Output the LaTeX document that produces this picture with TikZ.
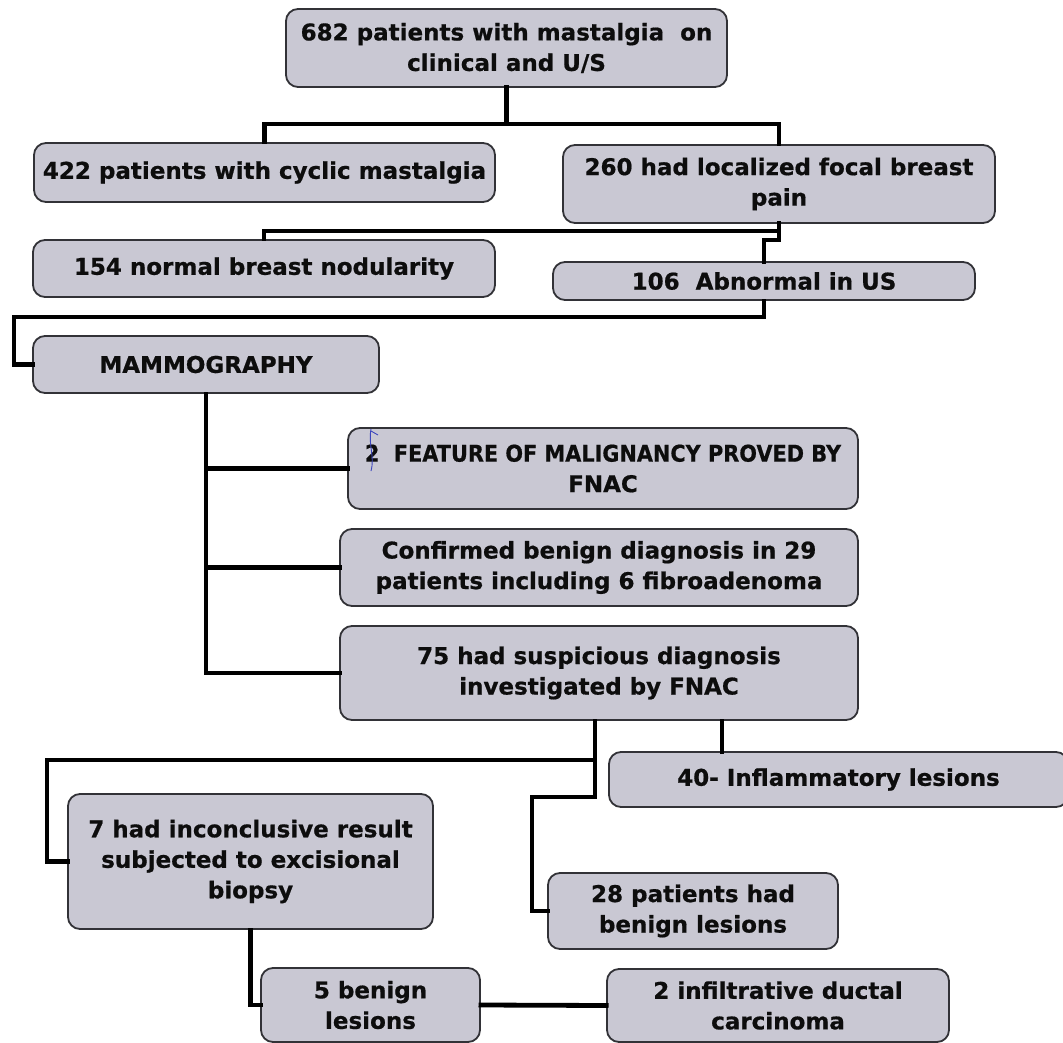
\documentclass[tikz,border=0pt]{standalone}
\usepackage{fontspec}
\setmainfont{DejaVu Sans}[BoldFeatures={FakeBold=0.7}]
\usetikzlibrary{calc}
\definecolor{boxfill}{RGB}{201,200,211}
\definecolor{boxline}{RGB}{50,50,55}
\definecolor{inkblue}{RGB}{60,70,190}
\tikzset{
  box/.style={draw=boxline, line width=1.8pt, fill=boxfill, rounded corners=12pt,
    align=center, inner sep=0pt, text=black!95,
    font=\bfseries\fontsize{23}{30.5}\selectfont},
  conn/.style={draw=black, line width=4.8pt, line cap=rect, line join=miter}
}
\begin{document}
\begin{tikzpicture}[x=1pt,y=-1pt]
\useasboundingbox (0,0) rectangle (1063,1043);
\fill[white] (0,0) rectangle (1063,1043);
\clip (0,0) rectangle (1063,1043);

% junction coordinates
\coordinate (j1) at (506.5,124);
\coordinate (j2) at (779,231);
\coordinate (j3) at (14,317);
\coordinate (kl) at (595,0);
\coordinate (kr) at (722,0);
\coordinate (j4) at (47,760);
\coordinate (j5) at (532,797);

% boxes
\node[box, minimum width=441pt, minimum height=78pt] (top) at (506.5,48) {682 patients with mastalgia\ \ on\\clinical and U/S};
\node[box, minimum width=461pt, minimum height=59pt] (c422) at (264.5,172.5) {422 patients with cyclic mastalgia};
\node[box, minimum width=432pt, minimum height=78pt] (c260) at (779,184) {260 had localized focal breast\\pain};
\node[box, minimum width=462pt, minimum height=57pt] (c154) at (264,268.5) {154 normal breast nodularity};
\node[box, minimum width=422pt, minimum height=38pt] (c106) at (764,281) {106\ \ Abnormal in US};
\node[box, minimum width=346pt, minimum height=57pt] (mammo) at (206,364.5) {MAMMOGRAPHY};
\node[box, minimum width=510pt, minimum height=81pt] (feat) at (603,468.5) {\scalebox{0.905}[1]{2\ \ FEATURE OF MALIGNANCY PROVED BY}\\FNAC};
\node[box, minimum width=518pt, minimum height=77pt] (conf) at (599,567.5) {Confirmed benign diagnosis in 29\\patients including 6 fibroadenoma};
\node[box, minimum width=518pt, minimum height=94pt] (s75) at (599,673) {75 had suspicious diagnosis\\investigated by FNAC};
\node[box, minimum width=459pt, minimum height=55pt] (i40) at (838.5,779.5) {40- Inflammatory lesions};
\node[box, minimum width=365pt, minimum height=135pt] (inc7) at (250.5,861.5) {7 had inconclusive result\\subjected to excisional\\biopsy};
\node[box, minimum width=290pt, minimum height=76pt] (b28) at (693,911) {28 patients had\\benign lesions};
\node[box, minimum width=219pt, minimum height=74pt] (b5) at (370.5,1005) {5 benign\\lesions};
\node[box, minimum width=342pt, minimum height=73pt] (idc) at (778,1005.5) {2 infiltrative ductal\\carcinoma};

% connectors
\draw[conn] (top.south) -- (j1);
\draw[conn] (c422.north) |- (j1) -| (c260.north);
\draw[conn] (c260.south) -- (j2);
\draw[conn] (c154.north) |- (j2);
\draw[conn] (j2) -- ++(0,9) -| (c106.north);
\draw[conn] (c106.south) |- (j3) |- (mammo.west);
\draw[conn] (mammo.south) |- (s75.west);
\draw[conn] (mammo.south |- feat.west) -- (feat.west);
\draw[conn] (mammo.south |- conf.west) -- (conf.west);
\draw[conn] (s75.south -| kr) -- (i40.north -| kr);
\draw[conn] (s75.south -| kl) |- (j4) |- (inc7.west);
\draw[conn] (s75.south -| kl) |- (j5) |- (b28.west);
\draw[conn] (inc7.south) |- (b5.west);
\draw[conn] (b5.east) -- (idc.west);

% handwritten pen mark near the "2"
\draw[inkblue, line width=0.9pt] (371,429) .. controls (368,445) and (375,456) .. (371,471);
\draw[inkblue, line width=0.9pt] (371,431) -- (378,435);
\end{tikzpicture}
\end{document}
